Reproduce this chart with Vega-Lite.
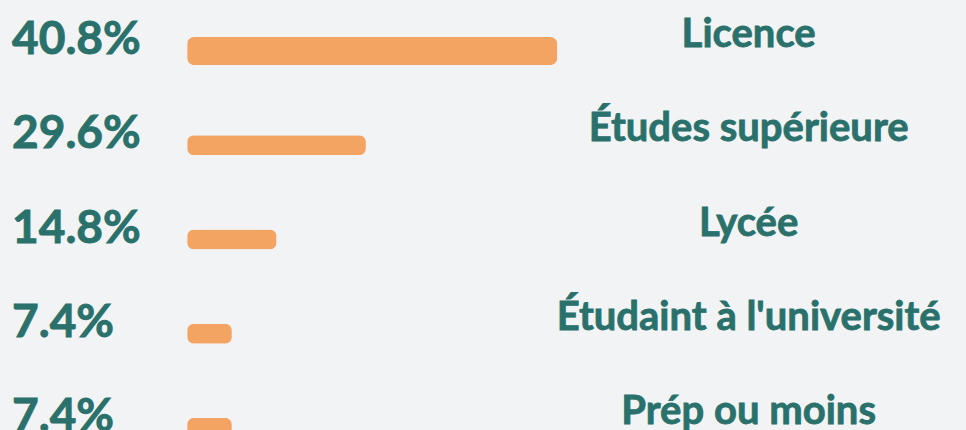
{
  "$schema": "https://vega.github.io/schema/vega-lite/v6.json",
  "width": 966,
  "height": 426,
  "autosize": {"type": "none"},
  "padding": {"left": 0, "right": 0, "top": 4, "bottom": 0},
  "background": "#f1f3f5",
  "config": {"view": {"stroke": null}},
  "data": {
    "values": [
      {"category": "Licence", "pct": 40.8, "bar": 61.3},
      {"category": "Études supérieure", "pct": 29.6, "bar": 29.6},
      {"category": "Lycée", "pct": 14.8, "bar": 14.8},
      {"category": "Étudaint à l'université", "pct": 7.4, "bar": 7.4},
      {"category": "Prép ou moins", "pct": 7.4, "bar": 7.4}
    ]
  },
  "transform": [{"calculate": "format(datum.pct, '.1f') + '%'", "as": "pctLabel"}],
  "encoding": {
    "y": {
      "field": "category",
      "type": "nominal",
      "sort": null,
      "axis": null,
      "scale": {"paddingInner": 0, "paddingOuter": 0, "range": [0, 471]}
    }
  },
  "layer": [
    {
      "mark": {"type": "bar", "color": "#f4a462", "cornerRadius": 7},
      "encoding": {
        "x": {"field": "bar", "type": "quantitative", "axis": null, "scale": {"domain": [-31, 129], "nice": false, "zero": false}},
        "size": {"condition": {"test": "datum.category === 'Licence'", "value": 28}, "value": 20}
      }
    },
    {
      "mark": {"type": "text", "align": "left", "baseline": "alphabetic", "dy": 3, "font": "Lato", "fontWeight": "bold", "fontSize": 46, "color": "#2a716b", "stroke": "#2a716b", "strokeWidth": 0.9},
      "encoding": {
        "x": {"datum": -29, "type": "quantitative"},
        "text": {"field": "pctLabel"}
      }
    },
    {
      "mark": {"type": "text", "align": "center", "baseline": "alphabetic", "dy": -4, "font": "Lato", "fontWeight": "bold", "fontSize": 40, "color": "#2a716b", "stroke": "#2a716b", "strokeWidth": 0.8},
      "encoding": {
        "x": {"datum": 93, "type": "quantitative"},
        "text": {"field": "category"}
      }
    }
  ]
}
